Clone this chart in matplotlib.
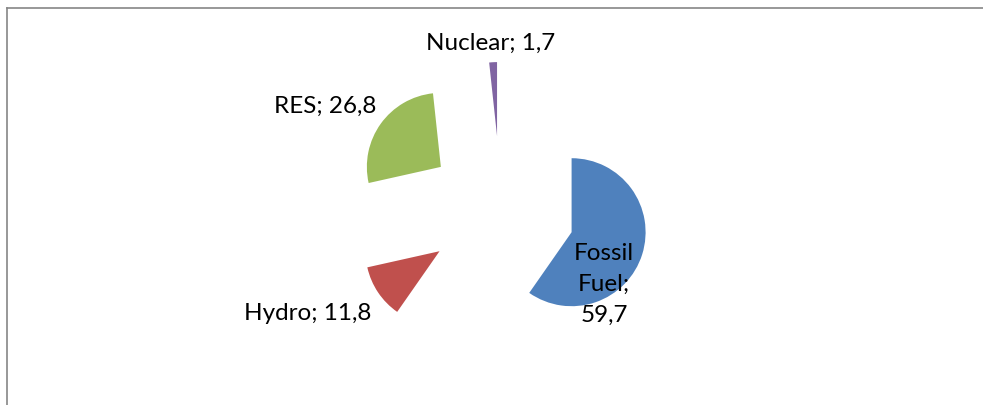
import matplotlib
matplotlib.use("Agg")
import matplotlib.pyplot as plt
from matplotlib.lines import Line2D

# ── Datos ─────────────────────────────────────────────────────────────────────
sources = ["Fossil Fuel", "Hydro", "RES", "Nuclear"]
shares  = [59.7, 11.8, 26.8, 1.7]
colors  = ["#4F81BD", "#C0504D", "#9BBB59", "#8064A2"]
# ─────────────────────────────────────────────────────────────────────────────

W, H = 983, 405
CX, CY, R = 501, 210, 74        # centro y radio del pastel (px)

fig = plt.figure(figsize=(W / 100, H / 100), dpi=100)
ax = fig.add_axes([0, 0, 1, 1])
ax.axis("off")

ax.pie(shares, colors=colors, startangle=90, counterclock=False,
       radius=1, explode=[1.0] * len(shares),
       wedgeprops={"linewidth": 0})
ax.set_xlim(-CX / R, (W - CX) / R)
ax.set_ylim(-(H - CY) / R, CY / R)

def lab(name, val):
    return f"{name}; {val:.1f}".replace(".", ",")

font = dict(family="Lato", fontsize=17.5, color="black")
# posiciones de etiquetas (px): x centro, y linea base
pos = {"Nuclear": (491, 50), "RES": (325, 113), "Hydro": (308, 320)}
for name, val in zip(sources, shares):
    if name in pos:
        x, y = pos[name]
        fig.text(x / W, 1 - y / H, lab(name, val), ha="center", va="baseline", **font)

fossil = lab(sources[0], shares[0]).replace(" ", "\n")
fig.text(604 / W, 1 - 322 / H, fossil, ha="center", va="baseline",
         linespacing=1.6, **font)

# marco gris del gráfico
fig.add_artist(Line2D([7 / W, 1], [1 - 8 / H, 1 - 8 / H], color="#868686", lw=1.2))
fig.add_artist(Line2D([7 / W, 7 / W], [0, 1 - 8 / H], color="#868686", lw=1.2))

fig.savefig("out.png", dpi=100)
